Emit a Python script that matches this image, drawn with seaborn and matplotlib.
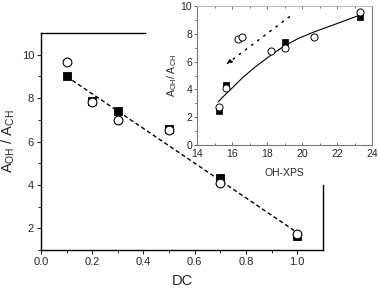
import matplotlib
matplotlib.use('Agg')
import matplotlib.pyplot as plt
import seaborn as sns
import pandas as pd

# main plot: A_OH/A_CH vs DC
dc_sq = [0.1, 0.2, 0.3, 0.5, 0.7, 1.0]
ratio_sq = [9.0, 7.86, 7.42, 6.58, 4.34, 1.66]
dc_circ = [0.1, 0.2, 0.3, 0.5, 0.7, 1.0]
ratio_circ = [9.65, 7.8, 6.97, 6.54, 4.11, 1.74]
fit_dc = [0.1, 1.0]
fit_ratio = [9.0, 1.8]

# inset: A_OH/A_CH vs OH-XPS
xps_sq = [15.23, 15.63, 19.01, 23.31]
ins_sq = [2.47, 4.32, 7.39, 9.23]
xps_circ = [15.23, 15.63, 16.34, 16.59, 18.21, 19.01, 20.68, 23.31]
ins_circ = [2.71, 4.08, 7.6, 7.79, 6.76, 6.95, 7.75, 9.59]
curve_x = [15.2, 15.6, 16.0, 16.6, 17.3, 18.25, 19.0, 19.8, 20.7, 21.9, 23.3]
curve_y = [3.1, 3.62, 4.1, 4.85, 5.6, 6.5, 7.15, 7.68, 8.15, 8.7, 9.35]

sns.set_style('ticks')
plt.rcParams['font.family'] = ['Liberation Sans', 'DejaVu Sans']
plt.rcParams['mathtext.default'] = 'regular'

main = pd.DataFrame({'dc': dc_sq, 'r': ratio_sq})
main_c = pd.DataFrame({'dc': dc_circ, 'r': ratio_circ})

fig = plt.figure(figsize=(3.79, 2.90), dpi=100)
ax = fig.add_axes([0.108, 0.138, 0.744, 0.748])

sns.lineplot(x=fit_dc, y=fit_ratio, ax=ax, color='black', lw=1.0,
             linestyle=(0, (3, 2)), zorder=1)
sns.scatterplot(data=main, x='dc', y='r', ax=ax, marker='s', s=26,
                color='black', edgecolor='black', linewidth=0.6, zorder=2)
sns.scatterplot(data=main_c, x='dc', y='r', ax=ax, marker='o', s=40,
                facecolor='white', edgecolor='black', linewidth=0.8, zorder=3)

ax.set_xlim(0, 1.1)
ax.set_ylim(1, 11)
ax.set_xticks([0.0, 0.2, 0.4, 0.6, 0.8, 1.0])
ax.set_xticks([0.1, 0.3, 0.5, 0.7, 0.9], minor=True)
ax.set_yticks([2, 4, 6, 8, 10])
ax.set_yticks([1, 3, 5, 7, 9], minor=True)
ax.set_xticklabels(['0.0', '0.2', '0.4', '0.6', '0.8', '1.0'])
ax.tick_params(which='major', direction='out', length=3, width=0.8,
               labelsize=8, pad=2)
ax.tick_params(which='minor', direction='out', length=2, width=0.7)
ax.set_xlabel('DC', fontsize=10.5, labelpad=5)
ax.set_ylabel(r'A$_{OH}$ / A$_{CH}$', fontsize=10.5, labelpad=3)
for s in ax.spines.values():
    s.set_linewidth(1.0)
    s.set_color('black')
ax.spines['top'].set_bounds(0, 0.405)
ax.spines['right'].set_bounds(1, 4.0)

# inset
ins = fig.add_axes([0.520, 0.500, 0.462, 0.479])
sns.lineplot(x=curve_x, y=curve_y, ax=ins, color='black', lw=0.8, zorder=1)
sns.scatterplot(x=xps_sq, y=ins_sq, ax=ins, marker='s', s=16,
                color='black', edgecolor='black', linewidth=0.5, zorder=2)
sns.scatterplot(x=xps_circ, y=ins_circ, ax=ins, marker='o', s=26,
                facecolor='white', edgecolor='black', linewidth=0.7, zorder=3)
ins.annotate('', xy=(15.5, 5.65), xytext=(19.4, 9.35),
             arrowprops=dict(arrowstyle='-|>,head_length=0.35,head_width=0.12',
                             linestyle=(0, (1, 4)), color='black', lw=1.1))
ins.set_xlim(14, 24)
ins.set_ylim(0, 10)
ins.set_xticks(range(14, 25, 2))
ins.set_xticks(range(15, 24, 2), minor=True)
ins.set_yticks(range(0, 11, 2))
ins.set_yticks(range(1, 10, 2), minor=True)
ins.tick_params(axis='x', which='both', direction='in', top=True,
                labelsize=7.5, pad=3, length=2, width=0.6, color='#555555')
ins.tick_params(axis='y', which='both', direction='out', right=False,
                labelsize=7.5, pad=1.5, length=2, width=0.6, color='#555555')
ins.tick_params(which='minor', length=1.5)
ins.set_xlabel('OH-XPS', fontsize=7.5, labelpad=6)
ins.set_ylabel(r'A$_{OH}$/ A$_{CH}$', fontsize=7.5, labelpad=1)
for s in ins.spines.values():
    s.set_linewidth(0.8)
    s.set_color('#777777')
ins.spines['top'].set_color('#bbbbbb')

fig.savefig('out.png', dpi=100)
